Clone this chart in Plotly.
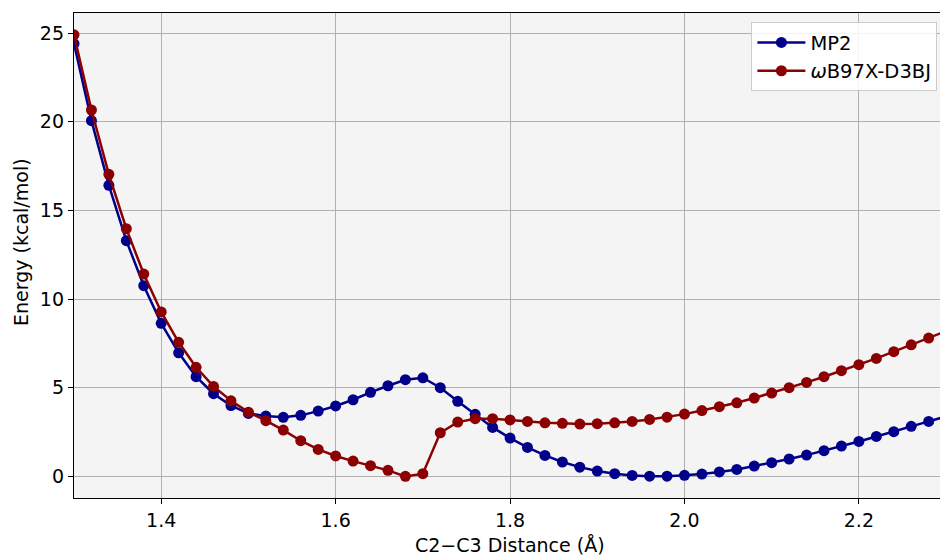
import plotly.graph_objects as go

distance = [1.30, 1.32, 1.34, 1.36, 1.38, 1.40, 1.42, 1.44, 1.46, 1.48,
            1.50, 1.52, 1.54, 1.56, 1.58, 1.60, 1.62, 1.64, 1.66, 1.68,
            1.70, 1.72, 1.74, 1.76, 1.78, 1.80, 1.82, 1.84, 1.86, 1.88,
            1.90, 1.92, 1.94, 1.96, 1.98, 2.00, 2.02, 2.04, 2.06, 2.08,
            2.10, 2.12, 2.14, 2.16, 2.18, 2.20, 2.22, 2.24, 2.26, 2.28, 2.30]

mp2 = [24.40, 20.06, 16.41, 13.29, 10.75, 8.63, 6.97, 5.62, 4.66, 3.99,
       3.55, 3.40, 3.33, 3.44, 3.68, 3.97, 4.32, 4.74, 5.11, 5.45,
       5.56, 5.00, 4.23, 3.50, 2.76, 2.16, 1.63, 1.18, 0.81, 0.52,
       0.30, 0.15, 0.05, 0.01, 0.01, 0.06, 0.13, 0.25, 0.39, 0.58,
       0.77, 0.98, 1.20, 1.45, 1.71, 1.97, 2.25, 2.52, 2.82, 3.10, 3.38]

wb97x = [24.90, 20.66, 17.03, 13.97, 11.41, 9.27, 7.56, 6.15, 5.07, 4.26,
         3.62, 3.14, 2.61, 2.01, 1.52, 1.15, 0.86, 0.60, 0.34, 0.00,
         0.15, 2.46, 3.06, 3.25, 3.25, 3.18, 3.10, 3.02, 2.99, 2.95,
         2.97, 3.02, 3.10, 3.21, 3.34, 3.51, 3.71, 3.93, 4.15, 4.42,
         4.70, 5.00, 5.30, 5.62, 5.96, 6.30, 6.65, 7.03, 7.42, 7.80, 8.19]

x_ticks = [1.4, 1.6, 1.8, 2.0, 2.2]
x_tick_text = ["1.4", "1.6", "1.8", "2.0", "2.2"]
y_ticks = [0, 5, 10, 15, 20, 25]
y_tick_text = ["0", "5", "10", "15", "20", "25"]

FONT = "DejaVu Sans"

fig = go.Figure()
fig.add_trace(go.Scatter(
    x=distance, y=mp2, mode="lines+markers", name="MP2", legendgroup="a",
    line=dict(color="#00008B", width=2.5),
    marker=dict(color="#00008B", size=11),
))
fig.add_trace(go.Scatter(
    x=distance, y=wb97x, mode="lines+markers", name="<i>ω</i>B97X-D3BJ", legendgroup="b",
    line=dict(color="#8B0000", width=2.5),
    marker=dict(color="#8B0000", size=11),
))

fig.update_layout(
    width=940, height=557,
    margin=dict(l=74, r=0, t=13, b=59),
    paper_bgcolor="white",
    plot_bgcolor="#F4F4F4",
    font=dict(family=FONT, color="black", size=19),
    showlegend=True,
    legend=dict(
        x=0.997, y=0.981, xanchor="right", yanchor="top",
        bgcolor="rgba(255,255,255,0.85)",
        bordercolor="#CCCCCC", borderwidth=1,
        font=dict(family=FONT, size=19.5, color="black"),
        tracegroupgap=0, itemwidth=48,
    ),
    xaxis=dict(
        range=[1.3, 2.293],
        tickvals=x_ticks, ticktext=x_tick_text,
        showgrid=True, gridcolor="#B0B0B0", gridwidth=1.2,
        zeroline=False,
        showline=True, linecolor="black", linewidth=1.3, mirror=True,
        ticks="outside", ticklen=5, tickwidth=1.2, tickcolor="black",
        tickfont=dict(family=FONT, size=19),
    ),
    yaxis=dict(
        range=[-1.22, 26.13],
        tickvals=y_ticks, ticktext=y_tick_text,
        showgrid=True, gridcolor="#B0B0B0", gridwidth=1.2,
        zeroline=False,
        showline=True, linecolor="black", linewidth=1.3, mirror=False,
        ticks="outside", ticklen=5, tickwidth=1.2, tickcolor="black",
        tickfont=dict(family=FONT, size=19),
    ),
    annotations=[
        dict(text="C2−C3 Distance (Å)", xref="paper", yref="paper",
             x=(510 - 74) / 866, y=-(545 - 498) / 485,
             xanchor="center", yanchor="middle", showarrow=False,
             font=dict(family=FONT, size=19)),
        dict(text="Energy (kcal/mol)", xref="paper", yref="paper",
             x=-(74 - 21) / 866, y=(498 - 242) / 485,
             xanchor="center", yanchor="middle", showarrow=False,
             textangle=-90, font=dict(family=FONT, size=19)),
    ],
)

fig.write_html("out.html")
